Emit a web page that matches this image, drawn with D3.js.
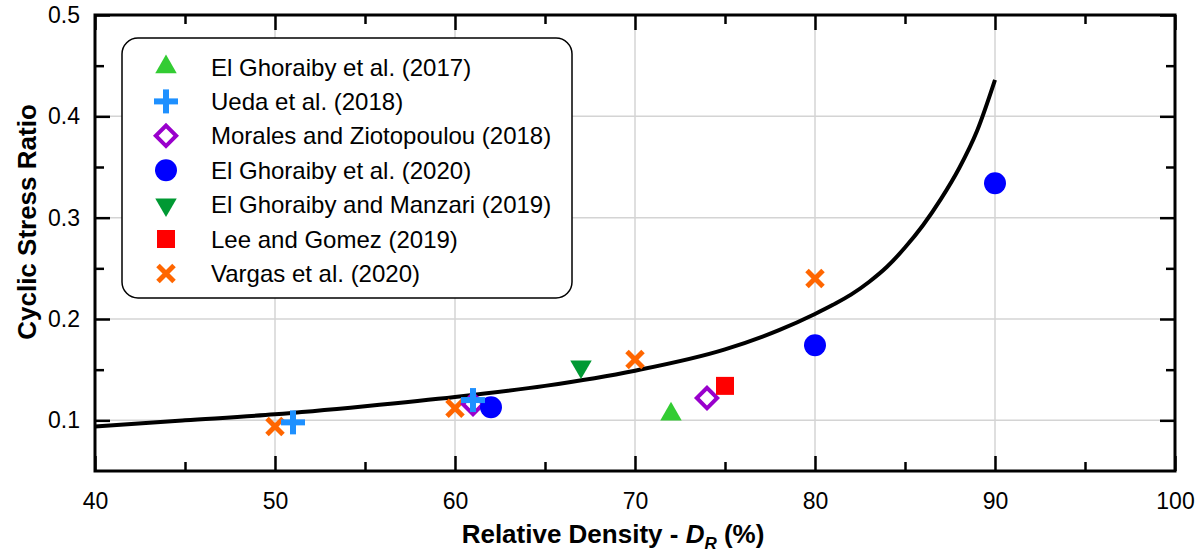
<!DOCTYPE html>
<html>
<head>
<meta charset="utf-8">
<title>Cyclic Stress Ratio vs Relative Density</title>
<script src="https://d3js.org/d3.v7.min.js"></script>
<style>
body { margin: 0; padding: 0; background: white; }
svg { font-family: "Liberation Sans", Arial, sans-serif; }
</style>
</head>
<body>
<svg width="1203" height="552"></svg>
<script>

// 1. data
var seriesNames = ['El Ghoraiby et al. (2017)',
                   'Ueda et al. (2018)',
                   'Morales and Ziotopoulou (2018)',
                   'El Ghoraiby et al. (2020)',
                   'El Ghoraiby and Manzari (2019)',
                   'Lee and Gomez (2019)',
                   'Vargas et al. (2020)'];
var seriesShapes = ['triUp', 'plus', 'diamond', 'circle', 'triDown', 'square', 'cross'];
var seriesColors = ['#33cc33', '#1e90ff', '#9900cc', '#0000ff', '#009933', '#ff0000', '#ff6600'];

var ghoraiby2017X = [72],             ghoraiby2017Y = [0.106];
var ueda2018X     = [51, 61],         ueda2018Y     = [0.098, 0.120];
var morales2018X  = [61, 74],         morales2018Y  = [0.116, 0.122];
var ghoraiby2020X = [62, 80, 90],     ghoraiby2020Y = [0.113, 0.174, 0.334];
var manzari2019X  = [67],             manzari2019Y  = [0.153];
var lee2019X      = [75],             lee2019Y      = [0.134];
var vargas2020X   = [50, 60, 70, 80], vargas2020Y   = [0.094, 0.112, 0.160, 0.240];

// trend curve, read at points along the line
var curveX = [40, 45, 50, 55, 60, 65, 70, 75, 78, 80, 81, 82, 83, 84, 85, 86, 87, 88, 89, 90];
var curveY = [0.094, 0.100, 0.106, 0.114, 0.123, 0.134, 0.149, 0.170, 0.189, 0.205,
              0.214, 0.224, 0.2365, 0.2515, 0.2705, 0.2925, 0.3185, 0.3485, 0.3855, 0.436];

var xMajor = [40, 50, 60, 70, 80, 90, 100];
var xMinor = [45, 55, 65, 75, 85, 95];
var yMajor = [0.1, 0.2, 0.3, 0.4, 0.5];
var yMinor = [0.15, 0.25, 0.35, 0.45];

// 2. scales
var svg = d3.select("svg");
var x = d3.scaleLinear().domain([40, 100]).range([95, 1175]);
var y = d3.scaleLinear().domain([0.05, 0.5]).range([471, 15]);

// 3. grid
svg.append("g").selectAll("line")
  .data(xMajor.slice(1, -1)).enter().append("line")
  .attr("x1", function(d) { return x(d); })
  .attr("x2", function(d) { return x(d); })
  .attr("y1", y(0.05)).attr("y2", y(0.5))
  .attr("stroke", "#d4d4d4").attr("stroke-width", 1.5);

svg.append("g").selectAll("line")
  .data(yMajor.slice(0, -1)).enter().append("line")
  .attr("y1", function(d) { return y(d); })
  .attr("y2", function(d) { return y(d); })
  .attr("x1", x(40)).attr("x2", x(100))
  .attr("stroke", "#d4d4d4").attr("stroke-width", 1.5);

// 4. axes (ticks pointing inward on all four sides)
function styleAxis(g) {
  g.select(".domain").remove();
  g.selectAll(".tick line").attr("stroke", "black").attr("stroke-width", 2.5);
  g.selectAll("text").attr("fill", "black").style("font-size", "23px")
    .style("font-family", '"Liberation Sans", Arial, sans-serif');
}

svg.append("g").attr("transform", "translate(0," + y(0.05) + ")")
  .call(d3.axisBottom(x).tickValues(xMajor).tickSize(-15).tickPadding(22).tickFormat(d3.format("d")))
  .call(styleAxis);
svg.append("g").attr("transform", "translate(0," + y(0.05) + ")")
  .call(d3.axisBottom(x).tickValues(xMinor).tickSize(-9).tickFormat(""))
  .call(styleAxis);
svg.append("g").attr("transform", "translate(0," + y(0.5) + ")")
  .call(d3.axisTop(x).tickValues(xMajor).tickSize(-15).tickFormat(""))
  .call(styleAxis);
svg.append("g").attr("transform", "translate(0," + y(0.5) + ")")
  .call(d3.axisTop(x).tickValues(xMinor).tickSize(-9).tickFormat(""))
  .call(styleAxis);

svg.append("g").attr("transform", "translate(" + x(40) + ",0)")
  .call(d3.axisLeft(y).tickValues(yMajor).tickSize(-15).tickPadding(15).tickFormat(d3.format(".1f")))
  .call(styleAxis);
svg.append("g").attr("transform", "translate(" + x(40) + ",0)")
  .call(d3.axisLeft(y).tickValues(yMinor).tickSize(-9).tickFormat(""))
  .call(styleAxis);
svg.append("g").attr("transform", "translate(" + x(100) + ",0)")
  .call(d3.axisRight(y).tickValues(yMajor).tickSize(-15).tickFormat(""))
  .call(styleAxis);
svg.append("g").attr("transform", "translate(" + x(100) + ",0)")
  .call(d3.axisRight(y).tickValues(yMinor).tickSize(-9).tickFormat(""))
  .call(styleAxis);

// frame
svg.append("rect")
  .attr("x", x(40)).attr("y", y(0.5))
  .attr("width", x(100) - x(40)).attr("height", y(0.05) - y(0.5))
  .attr("fill", "none").attr("stroke", "black").attr("stroke-width", 3);

// axis titles
svg.append("text")
  .attr("x", 613).attr("y", 543)
  .attr("text-anchor", "middle")
  .style("font-size", "26px").style("font-weight", "bold")
  .html('Relative Density - <tspan font-style="italic">D</tspan><tspan font-style="italic" font-size="17px" dy="6">R</tspan><tspan dy="-6"> (%)</tspan>');

svg.append("text")
  .attr("transform", "translate(36,222) rotate(-90)")
  .attr("text-anchor", "middle")
  .style("font-size", "26px").style("font-weight", "bold")
  .text("Cyclic Stress Ratio");

// 5. curve
var line = d3.line()
  .x(function(d, i) { return x(curveX[i]); })
  .y(function(d, i) { return y(curveY[i]); })
  .curve(d3.curveMonotoneX);

svg.append("path")
  .datum(curveX)
  .attr("d", line)
  .attr("fill", "none")
  .attr("stroke", "black")
  .attr("stroke-width", 4);

// 6. markers
function drawMarker(g, shape, color, px, py) {
  if (shape == 'circle') {
    g.append("circle").attr("cx", px).attr("cy", py).attr("r", 11).attr("fill", color);
  } else if (shape == 'square') {
    g.append("path").attr("d", d3.symbol().type(d3.symbolSquare).size(324)())
      .attr("transform", "translate(" + px + "," + py + ")").attr("fill", color);
  } else if (shape == 'triUp') {
    g.append("path").attr("d", d3.symbol().type(d3.symbolTriangle).size(200)())
      .attr("transform", "translate(" + px + "," + py + ")").attr("fill", color);
  } else if (shape == 'triDown') {
    g.append("path").attr("d", d3.symbol().type(d3.symbolTriangle).size(200)())
      .attr("transform", "translate(" + px + "," + py + ") rotate(180)").attr("fill", color);
  } else if (shape == 'diamond') {
    g.append("path").attr("d", d3.symbol().type(d3.symbolSquare).size(207)())
      .attr("transform", "translate(" + px + "," + py + ") rotate(45)")
      .attr("fill", "white").attr("stroke", color).attr("stroke-width", 4);
  } else if (shape == 'plus') {
    g.append("line").attr("x1", px - 12).attr("x2", px + 12).attr("y1", py).attr("y2", py)
      .attr("stroke", color).attr("stroke-width", 6);
    g.append("line").attr("x1", px).attr("x2", px).attr("y1", py - 12).attr("y2", py + 12)
      .attr("stroke", color).attr("stroke-width", 6);
  } else if (shape == 'cross') {
    g.append("line").attr("x1", px - 8).attr("x2", px + 8).attr("y1", py - 8).attr("y2", py + 8)
      .attr("stroke", color).attr("stroke-width", 5);
    g.append("line").attr("x1", px - 8).attr("x2", px + 8).attr("y1", py + 8).attr("y2", py - 8)
      .attr("stroke", color).attr("stroke-width", 5);
  }
}

var seriesX = [ghoraiby2017X, ueda2018X, morales2018X, ghoraiby2020X, manzari2019X, lee2019X, vargas2020X];
var seriesY = [ghoraiby2017Y, ueda2018Y, morales2018Y, ghoraiby2020Y, manzari2019Y, lee2019Y, vargas2020Y];

// drawing order so the overlaps near DR = 61 look like the figure
var drawOrder = [6, 2, 3, 0, 4, 5, 1];
var pts = svg.append("g");
drawOrder.forEach(function(s) {
  seriesX[s].forEach(function(v, i) {
    drawMarker(pts, seriesShapes[s], seriesColors[s], x(v), y(seriesY[s][i]));
  });
});

// 7. legend
var legend = svg.append("g").attr("transform", "translate(122,38)");
legend.append("rect")
  .attr("width", 450).attr("height", 260)
  .attr("rx", 16).attr("ry", 16)
  .attr("fill", "white").attr("stroke", "black").attr("stroke-width", 1.5);

seriesNames.forEach(function(name, i) {
  var cy = 29 + i * 34.4;
  drawMarker(legend, seriesShapes[i], seriesColors[i], 44, cy);
  legend.append("text")
    .attr("x", 89).attr("y", cy).attr("dy", "0.36em")
    .style("font-size", "24px")
    .attr("fill", "black")
    .text(name);
});

</script>
</body>
</html>
